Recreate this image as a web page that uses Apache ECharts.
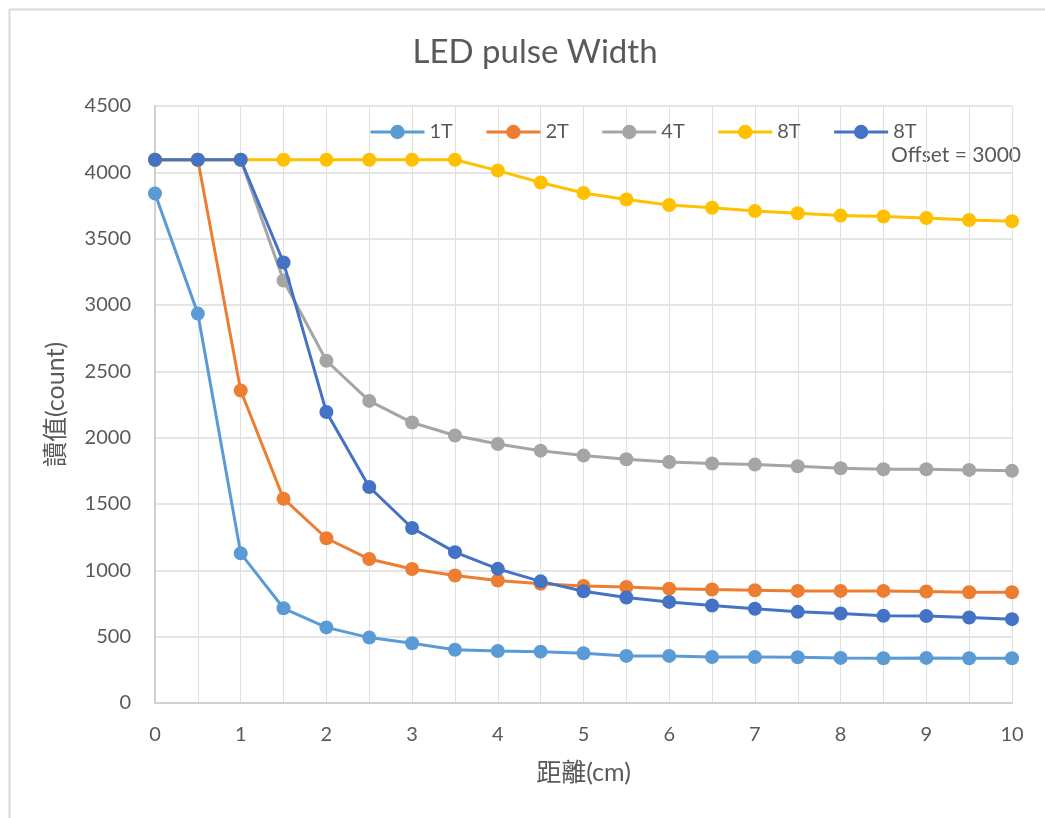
<!DOCTYPE html>
<html>
<head>
<meta charset="utf-8">
<script src="https://cdn.jsdelivr.net/npm/echarts@6/dist/echarts.min.js"></script>
<style>
  html, body { margin: 0; padding: 0; background: #ffffff; }
  #chart { width: 1045px; height: 818px; }
</style>
</head>
<body>
<div id="chart"></div>
<script>
// Distance from the sensor (cm), one reading every 0.5 cm
const distance = [0, 0.5, 1, 1.5, 2, 2.5, 3, 3.5, 4, 4.5, 5, 5.5, 6, 6.5, 7, 7.5, 8, 8.5, 9, 9.5, 10];

// Readings (count) for each LED pulse width
const t1 = [3840, 2935, 1128, 714, 570, 493, 450, 401, 392, 387, 375, 355, 355, 347, 347, 345, 340, 337, 340, 337, 337];
const t2 = [4095, 4095, 2355, 1540, 1242, 1085, 1010, 961, 923, 898, 882, 875, 862, 855, 850, 845, 845, 845, 840, 835, 835];
const t4 = [4095, 4095, 4095, 3185, 2580, 2277, 2114, 2016, 1952, 1902, 1865, 1837, 1817, 1805, 1797, 1785, 1770, 1762, 1762, 1757, 1750];
const t8 = [4095, 4095, 4095, 4095, 4095, 4095, 4095, 4095, 4013, 3923, 3844, 3795, 3754, 3733, 3708, 3692, 3674, 3667, 3656, 3641, 3631];
const t8Offset = [4095, 4095, 4095, 3320, 2193, 1628, 1319, 1137, 1011, 917, 842, 795, 762, 735, 710, 687, 675, 657, 655, 645, 632];

// Series ids stay unique; the legend shows only the part before the space
const seriesNames = ['1T', '2T', '4T', '8T', '8T offset'];
const seriesColors = ['#5B9BD5', '#ED7D31', '#A5A5A5', '#FFC000', '#4472C4'];
const seriesValues = [t1, t2, t4, t8, t8Offset];

const FONT = 'Lato, "Noto Sans", "Noto Sans CJK TC", sans-serif';
const TEXT = '#595959';

const pairs = vals => distance.map((d, i) => [d, vals[i]]);

const chart = echarts.init(document.getElementById('chart'), null, { renderer: 'canvas' });

chart.setOption({
  backgroundColor: '#ffffff',
  animation: false,
  title: {
    text: 'LED pulse Width',
    left: 530,
    textAlign: 'center',
    top: 31,
    textStyle: { fontFamily: FONT, fontSize: 33, fontWeight: 'normal', color: TEXT }
  },
  graphic: [
    {
      type: 'rect',
      left: 7, top: 7,
      shape: { width: 1100, height: 812 },
      style: { fill: 'none', stroke: '#d9d9d9', lineWidth: 2 },
      silent: true
    },
    {
      type: 'text',
      right: 24, top: 145,
      style: { text: 'Offset = 3000', fontFamily: FONT, fontSize: 21, fill: TEXT }
    }
  ],
  legend: {
    data: seriesNames,
    left: 364,
    top: 117,
    itemWidth: 54,
    itemHeight: 18,
    itemGap: 32,
    formatter: name => name.split(' ')[0],
    lineStyle: { width: 3 },
    textStyle: { fontFamily: FONT, fontSize: 20, color: TEXT }
  },
  grid: { left: 155, right: 33, top: 106, bottom: 115, containLabel: false },
  xAxis: {
    type: 'value',
    min: 0, max: 10, interval: 0.5,
    name: '距離(cm)',
    nameLocation: 'middle',
    nameGap: 57,
    nameTextStyle: { fontFamily: FONT, fontSize: 25, color: TEXT },
    axisLine: { show: true, lineStyle: { color: '#d0d0d0', width: 2 } },
    axisTick: { show: false },
    axisLabel: {
      fontFamily: FONT, fontSize: 20, color: TEXT, margin: 22,
      formatter: v => (Number.isInteger(v) ? String(v) : '')
    },
    splitLine: { show: true, lineStyle: { color: '#e0e0e0', width: 1 } }
  },
  yAxis: {
    type: 'value',
    min: 0, max: 4500, interval: 500,
    name: '讀值(count)',
    nameLocation: 'middle',
    nameGap: 87,
    nameRotate: 90,
    nameTextStyle: { fontFamily: FONT, fontSize: 25, color: TEXT },
    axisLine: { show: true, lineStyle: { color: '#d0d0d0', width: 2 } },
    axisTick: { show: false },
    axisLabel: { fontFamily: FONT, fontSize: 20, color: TEXT, margin: 24, formatter: v => String(v) },
    splitLine: { show: true, lineStyle: { color: '#dcdcdc', width: 1.5 } }
  },
  series: seriesValues.map((vals, i) => ({
    name: seriesNames[i],
    type: 'line',
    data: pairs(vals),
    symbol: 'circle',
    symbolSize: 14,
    showAllSymbol: true,
    lineStyle: { width: 3, color: seriesColors[i] },
    itemStyle: { color: seriesColors[i] },
    z: 2 + i
  }))
});
</script>
</body>
</html>
